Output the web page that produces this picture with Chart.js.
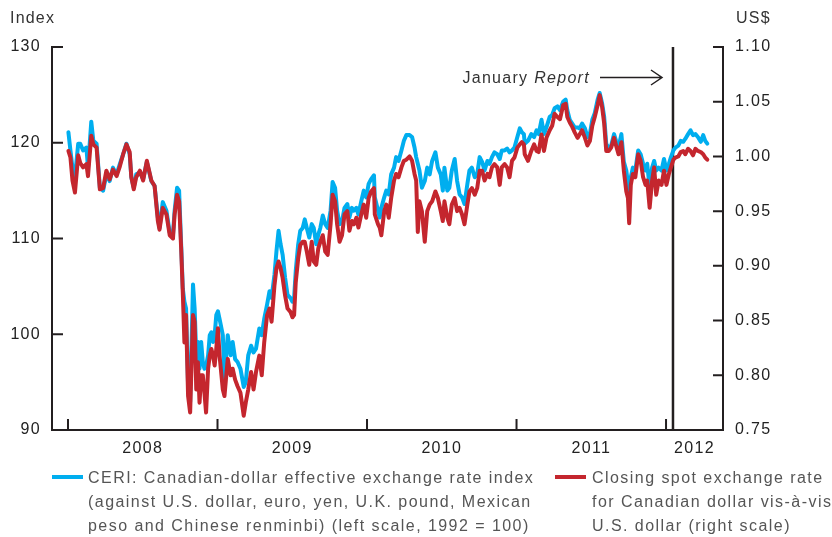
<!DOCTYPE html>
<html>
<head>
<meta charset="utf-8">
<script src="https://cdn.jsdelivr.net/npm/chart.js@4.4.1/dist/chart.umd.min.js"></script>
<style>
  html, body { margin: 0; padding: 0; background: #fff; overflow: hidden; }
  #wrap { position: relative; width: 832px; height: 537px; font-family: "Liberation Sans", Arial, sans-serif; }
  #ceriChart { position: absolute; left: 0; top: 0; }
  .unit { position: absolute; top: 8px; font-size: 16px; line-height: 20px; color: #333; letter-spacing: 1.2px; }
  .legend { position: absolute; top: 466px; font-size: 16px; line-height: 24px; color: #555; letter-spacing: 1.45px; white-space: nowrap; }
  .key { position: absolute; top: 475px; width: 31px; height: 4px; }
</style>
</head>
<body>
<div id="wrap">
  <canvas id="ceriChart" width="832" height="537"></canvas>
  <div class="unit" style="left:10px">Index</div>
  <div class="unit" style="left:736px">US$</div>
  <div class="key" style="left:52px; background:#00aeef"></div>
  <div class="legend" style="left:88px">CERI: Canadian-dollar effective exchange rate index<br>(against U.S. dollar, euro, yen, U.K. pound, Mexican<br>peso and Chinese renminbi) (left scale, 1992 = 100)</div>
  <div class="key" style="left:555px; background:#c4262e"></div>
  <div class="legend" style="left:592px">Closing spot exchange rate<br>for Canadian dollar vis-à-vis<br>U.S. dollar (right scale)</div>
</div>
<script>
// weekly-ish readings, Jan 2008 to Apr 2012
const dates = [
  '2008-01-02','2008-01-07','2008-01-12','2008-01-18','2008-01-26','2008-01-31','2008-02-07','2008-02-15','2008-02-19','2008-02-27',
  '2008-03-03','2008-03-11','2008-03-19','2008-03-27','2008-04-04','2008-04-12','2008-04-20','2008-04-29','2008-05-07','2008-05-15',
  '2008-05-23','2008-05-31','2008-06-04','2008-06-10','2008-06-16','2008-06-25','2008-07-03','2008-07-12','2008-07-23','2008-07-31',
  '2008-08-08','2008-08-12','2008-08-20','2008-08-29','2008-09-06','2008-09-14','2008-09-18','2008-09-24','2008-09-29','2008-10-04',
  '2008-10-08','2008-10-12','2008-10-16','2008-10-21','2008-10-26','2008-11-02','2008-11-06','2008-11-10','2008-11-14','2008-11-18',
  '2008-11-22','2008-11-26','2008-11-30','2008-12-04','2008-12-09','2008-12-13','2008-12-17','2008-12-21','2008-12-25','2008-12-29',
  '2009-01-02','2009-01-06','2009-01-14',
  '2009-01-18','2009-01-26','2009-02-02','2009-02-07','2009-02-13','2009-02-19','2009-02-26','2009-03-06','2009-03-11','2009-03-17',
  '2009-03-24','2009-03-30','2009-04-05','2009-04-13','2009-04-19','2009-04-25','2009-05-02','2009-05-08','2009-05-13','2009-05-20',
  '2009-05-25','2009-05-30','2009-06-04','2009-06-09','2009-06-15','2009-06-21','2009-06-28','2009-07-03','2009-07-07','2009-07-11',
  '2009-07-17','2009-07-22','2009-07-28','2009-08-02','2009-08-07','2009-08-13','2009-08-19','2009-08-24','2009-08-30','2009-09-04',
  '2009-09-09','2009-09-15','2009-09-21','2009-09-27','2009-10-04','2009-10-09','2009-10-15','2009-10-20','2009-10-26','2009-11-01',
  '2009-11-07','2009-11-14','2009-11-19','2009-11-25','2009-11-30','2009-12-06','2009-12-11','2009-12-18','2009-12-24','2009-12-30',
  '2010-01-05','2010-01-11','2010-01-18',
  '2010-01-20','2010-01-28','2010-02-01','2010-02-05','2010-02-12','2010-02-17','2010-02-23','2010-03-01','2010-03-08','2010-03-13',
  '2010-03-19','2010-03-26','2010-04-01','2010-04-07','2010-04-15','2010-04-21','2010-04-27','2010-05-01','2010-05-05','2010-05-09',
  '2010-05-15','2010-05-22','2010-05-28','2010-06-03','2010-06-09','2010-06-17','2010-06-23','2010-06-30','2010-07-05','2010-07-09',
  '2010-07-16','2010-07-21','2010-07-27','2010-08-03','2010-08-09','2010-08-15','2010-08-21','2010-08-27','2010-09-03','2010-09-08',
  '2010-09-14','2010-09-21','2010-09-27','2010-10-03','2010-10-09','2010-10-15','2010-10-22','2010-10-27','2010-11-02','2010-11-08',
  '2010-11-15','2010-11-21','2010-11-26','2010-12-03','2010-12-09','2010-12-15','2010-12-21','2010-12-27','2011-01-03','2011-01-09',
  '2011-01-14','2011-01-19',
  '2011-01-21','2011-01-29','2011-02-06','2011-02-13','2011-02-19','2011-02-24','2011-03-03','2011-03-09','2011-03-15','2011-03-23',
  '2011-03-29','2011-04-04','2011-04-11','2011-04-17','2011-04-25','2011-05-01','2011-05-05','2011-05-11','2011-05-17','2011-05-23',
  '2011-05-30','2011-06-04','2011-06-10','2011-06-17','2011-06-23','2011-06-29','2011-07-05','2011-07-11','2011-07-18','2011-07-23',
  '2011-07-29','2011-08-03','2011-08-08','2011-08-14','2011-08-20','2011-08-27','2011-09-01','2011-09-07','2011-09-14','2011-09-20',
  '2011-09-26','2011-09-30','2011-10-03','2011-10-07','2011-10-12','2011-10-18','2011-10-25','2011-10-31','2011-11-06','2011-11-12',
  '2011-11-16','2011-11-22','2011-11-28','2011-12-03','2011-12-08','2011-12-14','2011-12-21','2011-12-27','2012-01-02','2012-01-08',
  '2012-01-13','2012-01-19','2012-01-24','2012-01-31','2012-02-06','2012-02-12','2012-02-17','2012-02-24','2012-03-01','2012-03-07',
  '2012-03-13','2012-03-19','2012-03-26','2012-04-01','2012-04-06','2012-04-11'
];

// CERI, 1992 = 100 (left scale)
const ceri = [
  121.1,119.2,117.4,116.4,119.9,119.9,119.2,119.5,117.4,122.2,
  120.2,119.9,115.3,115.0,116.7,116.0,117.4,116.7,117.8,118.8,
  119.9,118.8,116.4,115.3,116.7,116.9,116.2,118.0,116.0,115.5,
  112.2,111.1,113.8,112.9,110.6,110.4,112.9,115.3,115.0,109.4,
  104.8,103.4,102.7,94.6,92.9,105.2,102.7,97.8,99.2,96.4,
  99.2,97.1,96.4,96.7,97.8,99.9,100.2,99.2,99.9,102.0,
  102.4,101.6,99.9,
  95.3,99.9,97.8,99.2,97.4,97.1,96.4,94.5,95.0,97.8,
  98.8,98.1,98.5,100.6,99.9,101.6,103.1,104.5,103.8,106.2,
  108.7,110.8,109.4,108.3,105.9,104.1,103.8,103.4,103.8,106.6,
  109.4,110.8,111.1,112.0,111.1,110.1,111.5,111.1,109.4,110.4,
  111.1,112.4,111.5,111.1,112.9,115.9,115.3,112.9,111.5,111.8,
  113.2,113.6,112.2,113.2,112.9,113.2,112.5,113.9,115.0,114.3,
  115.7,116.2,116.6,
  114.3,112.9,112.2,113.2,114.3,115.0,114.6,116.7,117.4,118.5,
  118.1,119.2,120.2,120.8,120.8,120.6,119.5,118.5,117.8,117.1,
  115.3,116.0,117.4,116.7,118.1,119.0,117.4,116.7,115.0,117.4,
  115.0,115.3,117.1,118.3,116.0,114.6,114.3,113.6,115.7,117.1,
  117.4,116.4,116.7,118.5,118.0,117.1,118.1,117.8,118.5,119.0,
  118.8,118.3,119.2,119.2,119.4,119.0,119.2,119.5,120.6,121.5,
  121.1,120.9,
  119.9,120.2,120.9,120.6,121.3,120.9,122.4,120.9,121.6,122.7,
  122.9,123.6,123.8,123.4,124.3,124.5,123.4,122.4,122.0,121.6,
  121.6,121.5,122.0,121.5,120.6,120.9,122.4,123.1,124.5,125.2,
  124.1,122.7,119.9,119.4,119.7,120.9,120.2,119.5,120.9,118.0,
  117.1,115.7,114.5,116.4,117.4,117.1,119.2,118.8,117.8,117.1,
  117.8,115.3,117.4,118.1,117.1,117.4,117.1,118.3,117.1,117.8,
  118.5,119.2,119.5,119.7,120.2,120.1,120.4,120.9,121.3,120.8,
  120.9,120.6,120.1,120.8,120.2,119.9
];

// closing spot rate, US$ per C$ (right scale)
const usd = [
  1.005,0.999,0.978,0.967,1.001,0.994,0.990,0.993,0.982,1.019,
  1.011,1.008,0.970,0.971,0.987,0.979,0.988,0.982,0.991,1.002,
  1.011,1.004,0.981,0.970,0.981,0.987,0.978,0.996,0.978,0.973,
  0.941,0.933,0.953,0.947,0.928,0.925,0.947,0.965,0.959,0.916,
  0.876,0.830,0.855,0.781,0.766,0.855,0.849,0.787,0.812,0.775,
  0.800,0.800,0.784,0.766,0.806,0.818,0.824,0.818,0.809,0.824,
  0.843,0.818,0.787,
  0.781,0.815,0.800,0.806,0.796,0.790,0.784,0.763,0.775,0.787,
  0.803,0.787,0.803,0.818,0.800,0.830,0.855,0.861,0.849,0.882,
  0.898,0.904,0.898,0.889,0.873,0.861,0.858,0.853,0.855,0.885,
  0.907,0.919,0.922,0.922,0.913,0.901,0.922,0.904,0.901,0.916,
  0.922,0.928,0.913,0.910,0.938,0.965,0.959,0.938,0.922,0.928,
  0.947,0.950,0.932,0.941,0.938,0.944,0.935,0.947,0.956,0.944,
  0.962,0.968,0.971,
  0.947,0.938,0.935,0.928,0.950,0.956,0.944,0.962,0.978,0.984,
  0.981,0.990,0.996,0.997,1.000,0.996,0.984,0.978,0.931,0.959,
  0.950,0.922,0.950,0.956,0.959,0.968,0.962,0.950,0.941,0.959,
  0.944,0.938,0.956,0.962,0.950,0.953,0.947,0.938,0.956,0.968,
  0.971,0.965,0.971,0.987,0.987,0.978,0.984,0.981,0.990,0.993,
  0.990,0.974,0.990,0.993,0.990,0.981,0.996,0.999,1.008,1.011,
  1.013,1.011,
  1.002,0.996,1.005,1.011,1.005,1.004,1.020,1.005,1.017,1.024,
  1.028,1.039,1.036,1.034,1.047,1.048,1.036,1.031,1.027,1.022,
  1.017,1.020,1.024,1.017,1.010,1.014,1.028,1.036,1.047,1.056,
  1.045,1.030,1.005,1.005,1.008,1.017,1.010,1.002,1.013,0.987,
  0.968,0.962,0.939,0.974,0.984,0.981,1.002,0.996,0.981,0.974,
  0.978,0.953,0.978,0.990,0.965,0.978,0.974,0.987,0.974,0.984,
  0.990,0.997,0.999,1.000,1.004,1.005,1.002,1.007,1.005,1.001,
  1.007,1.005,1.004,1.002,0.999,0.997
];

const years = ['2008', '2009', '2010', '2011', '2012'];
const indexTicks = [90, 100, 110, 120, 130];
const usdTicks = [0.75, 0.80, 0.85, 0.90, 0.95, 1.00, 1.05, 1.10];
const reportDate = '2012-01-18';

const X_MIN = 2007.893, X_MAX = 2012.381;
const FONT = '"Liberation Sans", Arial, sans-serif';
const INK = '#231f20';

// date string -> decimal year
function toYear(s) {
  const [y, m, d] = s.split('-').map(Number);
  const start = Date.UTC(y, 0, 1), end = Date.UTC(y + 1, 0, 1);
  return y + (Date.UTC(y, m - 1, d) - start) / (end - start);
}

const xs = dates.map(toYear);
const ceriPoints = xs.map((x, i) => ({ x: x, y: ceri[i] }));
const usdPoints = xs.map((x, i) => ({ x: x, y: usd[i] }));

// tick marks pointing into the plot
const innerTicks = {
  id: 'innerTicks',
  beforeDraw(chart) {
    chart.ctx.letterSpacing = '1.3px';
  },
  afterDraw(chart) {
    const { ctx, chartArea: a, scales } = chart;
    ctx.save();
    ctx.strokeStyle = INK;
    ctx.lineWidth = 2;
    ctx.beginPath();
    indexTicks.forEach(v => {
      const py = scales.y.getPixelForValue(v);
      ctx.moveTo(a.left, py); ctx.lineTo(a.left + 11, py);
    });
    usdTicks.forEach(v => {
      const py = scales.y1.getPixelForValue(v);
      ctx.moveTo(a.right - 10, py); ctx.lineTo(a.right, py);
    });
    years.forEach(yr => {
      const px = scales.x.getPixelForValue(Number(yr));
      ctx.moveTo(px, a.bottom); ctx.lineTo(px, a.bottom - 11);
    });
    ctx.stroke();
    ctx.restore();
  }
};

// vertical line for the January Report and its label
const reportMarker = {
  id: 'reportMarker',
  beforeDatasetsDraw(chart) {
    const { ctx, chartArea: a, scales } = chart;
    const px = scales.x.getPixelForValue(toYear(reportDate));
    const ay = a.top + 30.5;
    ctx.save();
    ctx.strokeStyle = INK;
    ctx.lineWidth = 2.5;
    ctx.beginPath();
    ctx.moveTo(px, a.top); ctx.lineTo(px, a.bottom);
    ctx.stroke();

    const tip = px - 11;
    ctx.lineWidth = 1.5;
    ctx.beginPath();
    ctx.moveTo(px - 73, ay); ctx.lineTo(tip, ay);
    ctx.moveTo(tip - 11, ay - 7.5); ctx.lineTo(tip, ay); ctx.lineTo(tip - 11, ay + 7.5);
    ctx.stroke();

    ctx.fillStyle = '#333';
    ctx.textBaseline = 'alphabetic';
    ctx.textAlign = 'right';
    const tx = px - 83, ty = a.top + 36;
    ctx.font = 'italic 16px ' + FONT;
    ctx.fillText('Report', tx, ty);
    const w = ctx.measureText('Report').width;
    ctx.font = '16px ' + FONT;
    ctx.fillText('January ', tx - w, ty);
    ctx.restore();
  }
};

const tickFont = { family: FONT, size: 16 };

new Chart(document.getElementById('ceriChart').getContext('2d'), {
  type: 'line',
  data: {
    datasets: [
      {
        label: 'Closing spot exchange rate for Canadian dollar vis-à-vis U.S. dollar (right scale)',
        data: usdPoints,
        yAxisID: 'y1',
        borderColor: '#c4262e',
        borderWidth: 4,
        pointRadius: 0,
        tension: 0,
        borderJoinStyle: 'round',
        borderCapStyle: 'round',
        order: 1
      },
      {
        label: 'CERI: Canadian-dollar effective exchange rate index (left scale, 1992 = 100)',
        data: ceriPoints,
        yAxisID: 'y',
        borderColor: '#00aeef',
        borderWidth: 4,
        pointRadius: 0,
        tension: 0,
        borderJoinStyle: 'round',
        borderCapStyle: 'round',
        order: 2
      }
    ]
  },
  options: {
    responsive: false,
    animation: false,
    layout: { padding: { top: 47, left: 0, right: 0, bottom: 0 } },
    plugins: {
      legend: { display: false },
      tooltip: { enabled: false }
    },
    scales: {
      x: {
        type: 'linear',
        position: 'bottom',
        min: X_MIN,
        max: X_MAX,
        grid: { display: false, drawTicks: false },
        border: { display: true, color: INK, width: 2 },
        afterBuildTicks: scale => {
          scale.ticks = years.map(yr => {
            const start = Number(yr);
            return { value: (start + Math.min(start + 1, X_MAX)) / 2 };
          });
        },
        afterFit: scale => { scale.height = 107; },
        ticks: {
          autoSkip: false,
          maxRotation: 0,
          padding: 9,
          color: '#222',
          font: tickFont,
          callback: (v, i) => years[i]
        }
      },
      y: {
        position: 'left',
        min: 90,
        max: 130,
        grid: { display: false, drawTicks: false },
        border: { display: true, color: INK, width: 2 },
        afterBuildTicks: scale => { scale.ticks = indexTicks.map(v => ({ value: v })); },
        afterFit: scale => { scale.width = 52; },
        ticks: { padding: 11, color: '#222', font: tickFont }
      },
      y1: {
        position: 'right',
        min: 0.75,
        max: 1.10,
        grid: { display: false, drawTicks: false },
        border: { display: true, color: INK, width: 2 },
        afterBuildTicks: scale => { scale.ticks = usdTicks.map(v => ({ value: v })); },
        afterFit: scale => { scale.width = 109; },
        ticks: {
          padding: 12,
          color: '#222',
          font: tickFont,
          callback: v => v.toFixed(2)
        }
      }
    }
  },
  plugins: [innerTicks, reportMarker]
});
</script>
</body>
</html>
